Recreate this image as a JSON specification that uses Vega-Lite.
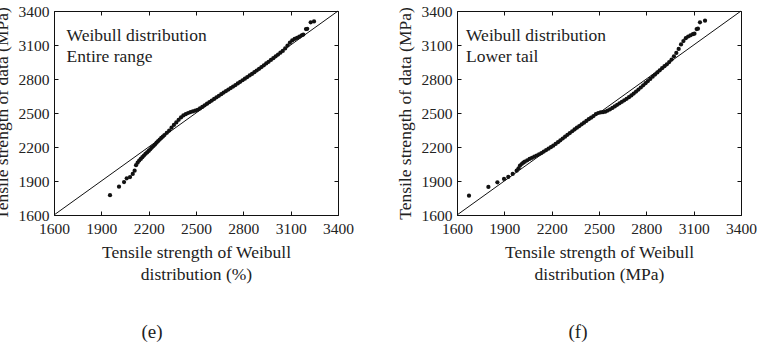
{
  "$schema": "https://vega.github.io/schema/vega-lite/v6.json",
  "background": "white",
  "padding": {"left": -7, "top": 4, "right": 0, "bottom": 0},
  "spacing": 119,
  "bounds": "flush",
  "config": {
    "view": {"stroke": null},
    "font": "Liberation Serif, Times New Roman, serif",
    "axis": {
      "grid": false,
      "domainColor": "#111",
      "domainWidth": 1,
      "tickColor": "#111",
      "tickSize": -4,
      "format": "d",
      "labelOverlap": false,
      "labelFlush": false,
      "labelFont": "Liberation Serif, Times New Roman, serif",
      "labelFontSize": 15.5,
      "labelColor": "#222",
      "titleFont": "Liberation Serif, Times New Roman, serif",
      "titleFontSize": 17.5,
      "titleFontWeight": "normal",
      "titleColor": "#222"
    },
    "title": {"font": "Liberation Serif, Times New Roman, serif", "fontSize": 19, "fontWeight": "normal", "color": "#222"}
  },
  "datasets": {
    "diag": [{"x": 1600, "y": 1600}, {"x": 3400, "y": 3400}],
    "entire": [
      {"x": 1955, "y": 1775}, {"x": 2012, "y": 1850}, {"x": 2044, "y": 1891}, {"x": 2061, "y": 1924},
      {"x": 2082, "y": 1935}, {"x": 2099, "y": 1962}, {"x": 2111, "y": 1991}, {"x": 2120, "y": 2040},
      {"x": 2130, "y": 2062}, {"x": 2140, "y": 2080}, {"x": 2150, "y": 2095}, {"x": 2160, "y": 2110},
      {"x": 2170, "y": 2125}, {"x": 2180, "y": 2140}, {"x": 2190, "y": 2152}, {"x": 2200, "y": 2165},
      {"x": 2210, "y": 2180}, {"x": 2220, "y": 2195}, {"x": 2230, "y": 2208}, {"x": 2240, "y": 2222},
      {"x": 2250, "y": 2238}, {"x": 2260, "y": 2252}, {"x": 2270, "y": 2266}, {"x": 2280, "y": 2280},
      {"x": 2290, "y": 2292}, {"x": 2300, "y": 2305}, {"x": 2315, "y": 2325}, {"x": 2330, "y": 2345},
      {"x": 2345, "y": 2370}, {"x": 2360, "y": 2395}, {"x": 2375, "y": 2417}, {"x": 2390, "y": 2440},
      {"x": 2405, "y": 2461}, {"x": 2420, "y": 2478}, {"x": 2435, "y": 2490}, {"x": 2450, "y": 2500},
      {"x": 2465, "y": 2508}, {"x": 2480, "y": 2514}, {"x": 2495, "y": 2520}, {"x": 2510, "y": 2528},
      {"x": 2525, "y": 2540}, {"x": 2540, "y": 2554}, {"x": 2555, "y": 2568}, {"x": 2570, "y": 2582},
      {"x": 2585, "y": 2596}, {"x": 2600, "y": 2610}, {"x": 2615, "y": 2624}, {"x": 2630, "y": 2638},
      {"x": 2645, "y": 2652}, {"x": 2660, "y": 2666}, {"x": 2675, "y": 2680}, {"x": 2690, "y": 2694},
      {"x": 2705, "y": 2707}, {"x": 2720, "y": 2720}, {"x": 2735, "y": 2733}, {"x": 2750, "y": 2747},
      {"x": 2765, "y": 2761}, {"x": 2780, "y": 2775}, {"x": 2795, "y": 2789}, {"x": 2810, "y": 2803},
      {"x": 2825, "y": 2817}, {"x": 2840, "y": 2831}, {"x": 2855, "y": 2845}, {"x": 2870, "y": 2860},
      {"x": 2885, "y": 2875}, {"x": 2900, "y": 2890}, {"x": 2915, "y": 2905}, {"x": 2930, "y": 2921},
      {"x": 2945, "y": 2937}, {"x": 2960, "y": 2952}, {"x": 2975, "y": 2968}, {"x": 2990, "y": 2984},
      {"x": 3005, "y": 3000}, {"x": 3020, "y": 3016}, {"x": 3035, "y": 3032}, {"x": 3050, "y": 3048},
      {"x": 3065, "y": 3070}, {"x": 3080, "y": 3095}, {"x": 3095, "y": 3120}, {"x": 3110, "y": 3140},
      {"x": 3125, "y": 3153}, {"x": 3140, "y": 3162}, {"x": 3155, "y": 3173}, {"x": 3170, "y": 3185},
      {"x": 3180, "y": 3192}, {"x": 3197, "y": 3241}, {"x": 3205, "y": 3243}, {"x": 3227, "y": 3300},
      {"x": 3248, "y": 3308}
    ],
    "lower": [
      {"x": 1676, "y": 1770}, {"x": 1799, "y": 1848}, {"x": 1856, "y": 1888}, {"x": 1898, "y": 1918},
      {"x": 1925, "y": 1936}, {"x": 1953, "y": 1962}, {"x": 1978, "y": 1991}, {"x": 1990, "y": 2012},
      {"x": 1999, "y": 2035}, {"x": 2010, "y": 2050}, {"x": 2020, "y": 2062}, {"x": 2030, "y": 2070},
      {"x": 2045, "y": 2083}, {"x": 2060, "y": 2095}, {"x": 2075, "y": 2105}, {"x": 2090, "y": 2115},
      {"x": 2105, "y": 2125}, {"x": 2120, "y": 2136}, {"x": 2135, "y": 2147}, {"x": 2150, "y": 2160},
      {"x": 2165, "y": 2173}, {"x": 2180, "y": 2185}, {"x": 2195, "y": 2198}, {"x": 2210, "y": 2212},
      {"x": 2225, "y": 2227}, {"x": 2240, "y": 2243}, {"x": 2255, "y": 2259}, {"x": 2270, "y": 2275},
      {"x": 2285, "y": 2291}, {"x": 2300, "y": 2307}, {"x": 2315, "y": 2323}, {"x": 2330, "y": 2339},
      {"x": 2345, "y": 2355}, {"x": 2360, "y": 2370}, {"x": 2375, "y": 2385}, {"x": 2390, "y": 2400},
      {"x": 2405, "y": 2415}, {"x": 2420, "y": 2430}, {"x": 2435, "y": 2445}, {"x": 2450, "y": 2459},
      {"x": 2465, "y": 2473}, {"x": 2480, "y": 2490}, {"x": 2495, "y": 2500}, {"x": 2510, "y": 2505},
      {"x": 2525, "y": 2507}, {"x": 2540, "y": 2512}, {"x": 2555, "y": 2522}, {"x": 2570, "y": 2533},
      {"x": 2585, "y": 2545}, {"x": 2600, "y": 2558}, {"x": 2615, "y": 2572}, {"x": 2630, "y": 2585},
      {"x": 2645, "y": 2599}, {"x": 2660, "y": 2612}, {"x": 2675, "y": 2625}, {"x": 2690, "y": 2640},
      {"x": 2705, "y": 2655}, {"x": 2720, "y": 2672}, {"x": 2735, "y": 2689}, {"x": 2750, "y": 2707},
      {"x": 2765, "y": 2725}, {"x": 2780, "y": 2744}, {"x": 2795, "y": 2763}, {"x": 2810, "y": 2782},
      {"x": 2825, "y": 2801}, {"x": 2840, "y": 2820}, {"x": 2855, "y": 2839}, {"x": 2870, "y": 2858},
      {"x": 2885, "y": 2877}, {"x": 2900, "y": 2895}, {"x": 2915, "y": 2913}, {"x": 2930, "y": 2930},
      {"x": 2945, "y": 2949}, {"x": 2960, "y": 2972}, {"x": 2975, "y": 3000}, {"x": 2990, "y": 3030},
      {"x": 3005, "y": 3065}, {"x": 3020, "y": 3105}, {"x": 3035, "y": 3135}, {"x": 3050, "y": 3160},
      {"x": 3065, "y": 3175}, {"x": 3080, "y": 3185}, {"x": 3095, "y": 3195}, {"x": 3105, "y": 3200},
      {"x": 3119, "y": 3241}, {"x": 3127, "y": 3244}, {"x": 3140, "y": 3300}, {"x": 3172, "y": 3315}
    ],
    "noteE": [
      {"x": 1680, "y": 3138, "label": "Weibull distribution"},
      {"x": 1680, "y": 2947, "label": "Entire range"}
    ],
    "noteF": [
      {"x": 1657, "y": 3138, "label": "Weibull distribution"},
      {"x": 1657, "y": 2947, "label": "Lower tail"}
    ]
  },
  "hconcat": [
    {
      "width": 284,
      "height": 204,
      "title": {"text": "(e)", "orient": "bottom", "offset": 40, "dx": -44},
      "resolve": {"axis": {"x": "independent", "y": "independent"}},
      "layer": [
        {
          "data": {"name": "diag"},
          "mark": {"type": "line", "color": "#111", "strokeWidth": 1},
          "encoding": {
            "x": {"field": "x", "type": "quantitative", "scale": {"domain": [1600, 3400], "nice": false},
              "axis": {"values": [1600, 1900, 2200, 2500, 2800, 3100, 3400], "labelPadding": 10, "titlePadding": 7,
                "title": ["Tensile strength of Weibull", "distribution (%)"], "titleLineHeight": 22}},
            "y": {"field": "y", "type": "quantitative", "scale": {"domain": [1600, 3400], "nice": false},
              "axis": {"values": [1600, 1900, 2200, 2500, 2800, 3100, 3400], "labelPadding": 9, "titlePadding": 7,
                "title": "Tensile strength of data (MPa)"}}
          }
        },
        {
          "data": {"name": "entire"},
          "mark": {"type": "point", "shape": "circle", "filled": true, "size": 18, "color": "#111", "opacity": 1},
          "encoding": {
            "x": {"field": "x", "type": "quantitative",
              "axis": {"orient": "top", "values": [1600, 1900, 2200, 2500, 2800, 3100, 3400], "labels": false, "title": null}},
            "y": {"field": "y", "type": "quantitative",
              "axis": {"orient": "right", "values": [1600, 1900, 2200, 2500, 2800, 3100, 3400], "labels": false, "title": null}}
          }
        },
        {
          "data": {"name": "noteE"},
          "mark": {"type": "text", "align": "left", "baseline": "alphabetic", "fontSize": 17.5, "color": "#222", "font": "Liberation Serif, Times New Roman, serif"},
          "encoding": {
            "x": {"field": "x", "type": "quantitative", "axis": null},
            "y": {"field": "y", "type": "quantitative", "axis": null},
            "text": {"field": "label"}
          }
        }
      ]
    },
    {
      "width": 284,
      "height": 204,
      "title": {"text": "(f)", "orient": "bottom", "offset": 40, "dx": -21},
      "resolve": {"axis": {"x": "independent", "y": "independent"}},
      "layer": [
        {
          "data": {"name": "diag"},
          "mark": {"type": "line", "color": "#111", "strokeWidth": 1},
          "encoding": {
            "x": {"field": "x", "type": "quantitative", "scale": {"domain": [1600, 3400], "nice": false},
              "axis": {"values": [1600, 1900, 2200, 2500, 2800, 3100, 3400], "labelPadding": 10, "titlePadding": 7,
                "title": ["Tensile strength of Weibull", "distribution (MPa)"], "titleLineHeight": 22}},
            "y": {"field": "y", "type": "quantitative", "scale": {"domain": [1600, 3400], "nice": false},
              "axis": {"values": [1600, 1900, 2200, 2500, 2800, 3100, 3400], "labelPadding": 9, "titlePadding": 7,
                "title": "Tensile strength of data (MPa)"}}
          }
        },
        {
          "data": {"name": "lower"},
          "mark": {"type": "point", "shape": "circle", "filled": true, "size": 18, "color": "#111", "opacity": 1},
          "encoding": {
            "x": {"field": "x", "type": "quantitative",
              "axis": {"orient": "top", "values": [1600, 1900, 2200, 2500, 2800, 3100, 3400], "labels": false, "title": null}},
            "y": {"field": "y", "type": "quantitative",
              "axis": {"orient": "right", "values": [1600, 1900, 2200, 2500, 2800, 3100, 3400], "labels": false, "title": null}}
          }
        },
        {
          "data": {"name": "noteF"},
          "mark": {"type": "text", "align": "left", "baseline": "alphabetic", "fontSize": 17.5, "color": "#222", "font": "Liberation Serif, Times New Roman, serif"},
          "encoding": {
            "x": {"field": "x", "type": "quantitative", "axis": null},
            "y": {"field": "y", "type": "quantitative", "axis": null},
            "text": {"field": "label"}
          }
        }
      ]
    }
  ]
}
